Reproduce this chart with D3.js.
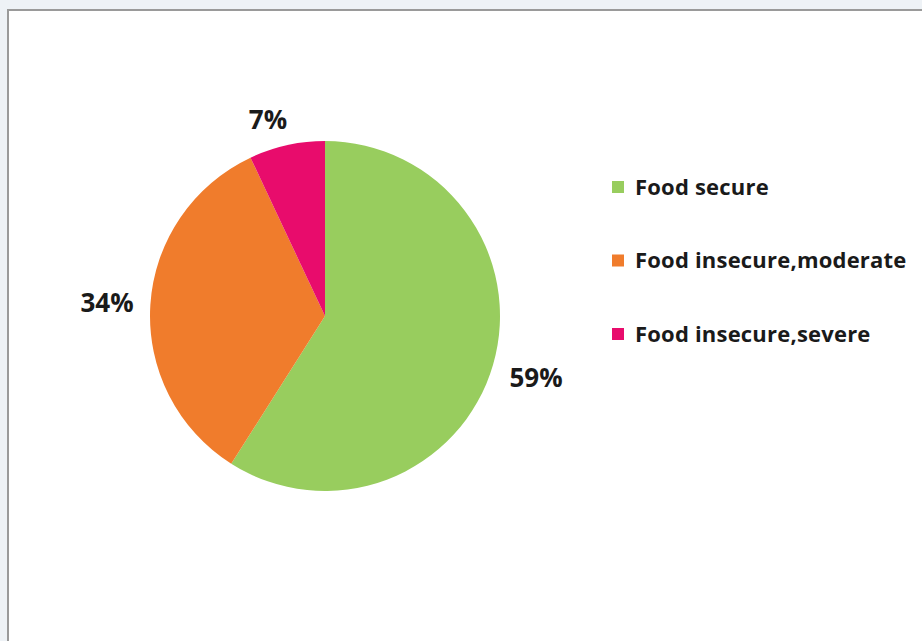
<!DOCTYPE html>
<html>
<head>
<meta charset="utf-8">
<script src="https://cdn.jsdelivr.net/npm/d3@7"></script>
<style>
  body { margin: 0; background: #eef2f6; }
  svg { display: block; }
</style>
</head>
<body>
<div id="chart"></div>
<script>
// chart data
var categories = ["Food secure", "Food insecure,moderate", "Food insecure,severe"];
var values = [59, 34, 7];
var colors = ["#98cd5e", "#f07c2c", "#e80c6c"];

var width = 922, height = 641;
var cx = 325, cy = 316, radius = 175;

var svg = d3.select("#chart").append("svg")
        .attr("width", width)
        .attr("height", height);

// frame
svg.append("rect")
        .attr("x", 8).attr("y", 10)
        .attr("width", width).attr("height", height)
        .style("fill", "#fff")
        .style("stroke", "#9a9a9a")
        .style("stroke-width", 2);

var data = categories.map(function (c, i) {
    return {name: c, value: values[i], color: colors[i]};
});

var pie = d3.pie().sort(null).value(function (d) { return d.value; });
var arc = d3.arc().innerRadius(0).outerRadius(radius);

var g = svg.append("g").attr("transform", "translate(" + cx + "," + cy + ")");
var arcs = pie(data);

g.selectAll("path.slice")
        .data(arcs)
        .enter().append("path")
        .attr("class", "slice")
        .attr("d", arc)
        .style("fill", function (d) { return d.data.color; });

// percent labels, placed like the excel data labels
var labelOffset = [[211, 62], [-218, -13], [-57, -196]];
g.selectAll("text.pct")
        .data(arcs)
        .enter().append("text")
        .attr("class", "pct")
        .attr("x", function (d, i) { return labelOffset[i][0]; })
        .attr("y", function (d, i) { return labelOffset[i][1]; })
        .attr("text-anchor", "middle")
        .attr("dy", "0.35em")
        .style("font-family", "'Open Sans', sans-serif")
        .style("font-weight", "bold")
        .style("font-size", "26px")
        .style("fill", "#1a1a1a")
        .text(function (d) { return d.data.value + "%"; });

// legend
var legend = svg.append("g").attr("transform", "translate(612,187)");
var item = legend.selectAll("g.item")
        .data(data)
        .enter().append("g")
        .attr("class", "item")
        .attr("transform", function (d, i) { return "translate(0," + (i * 73.5) + ")"; });

item.append("rect")
        .attr("x", 0).attr("y", -6)
        .attr("width", 12).attr("height", 12)
        .style("fill", function (d) { return d.color; });

item.append("text")
        .attr("x", 23)
        .attr("dy", "0.35em")
        .style("font-family", "'Open Sans', sans-serif")
        .style("font-weight", "bold")
        .style("font-size", "22px")
        .style("letter-spacing", "0.2px")
        .style("fill", "#1a1a1a")
        .text(function (d) { return d.name; });
</script>
</body>
</html>
